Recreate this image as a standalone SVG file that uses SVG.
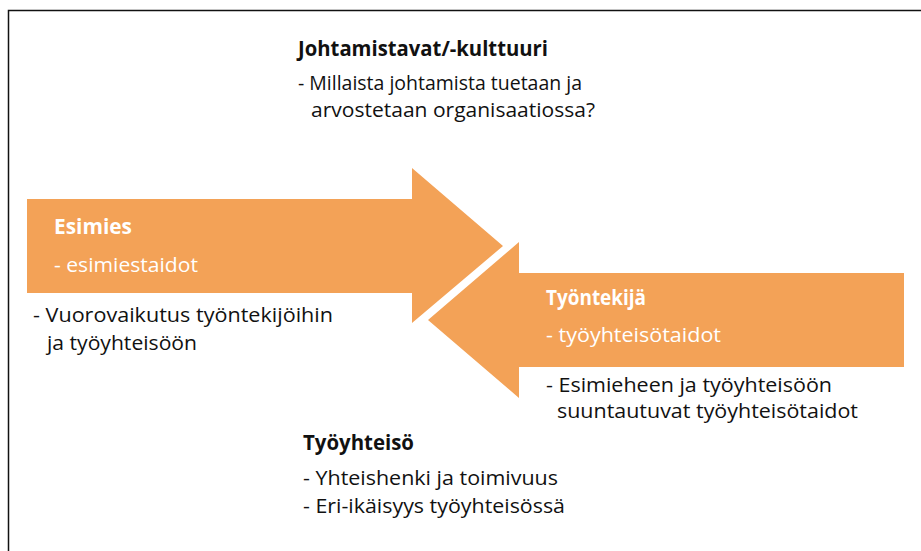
<svg xmlns="http://www.w3.org/2000/svg" width="921" height="551" viewBox="0 0 921 551">
<style>
text{font-family:"Open Sans","Noto Sans","Liberation Sans",sans-serif;font-size:20.5px;fill:#111}
.b{font-weight:bold}
.w{fill:#fff}
.arrow{fill:#F3A257}
</style>
<rect width="921" height="551" fill="#fff"/>
<path d="M8.5,551 V10.5 H921" fill="none" stroke="#111" stroke-width="1.5"/>
<g id="connectors">
<polygon id="arrow-esimies" class="arrow" points="27,199 412,199 412,168 503,246 412,323 412,293 27,293"/>
<polygon id="arrow-tyontekija" class="arrow" points="904,273 519,273 519,242 428,320 519,398 519,367 904,367"/>
</g>
<g id="johtamistavat">
<text x="298" y="56" class="b" textLength="250" lengthAdjust="spacingAndGlyphs">Johtamistavat/-kulttuuri</text>
<text x="298" y="90" textLength="284" lengthAdjust="spacingAndGlyphs">- Millaista johtamista tuetaan ja</text>
<text x="311" y="117" textLength="284" lengthAdjust="spacingAndGlyphs">arvostetaan organisaatiossa?</text>
</g>
<g id="esimies">
<text x="54" y="234" class="b w" textLength="78" lengthAdjust="spacingAndGlyphs">Esimies</text>
<text x="54" y="272" class="w" textLength="144" lengthAdjust="spacingAndGlyphs">- esimiestaidot</text>
<text x="33" y="322" textLength="300" lengthAdjust="spacingAndGlyphs">- Vuorovaikutus työntekijöihin</text>
<text x="47" y="350" textLength="150" lengthAdjust="spacingAndGlyphs">ja työyhteisöön</text>
</g>
<g id="tyontekija">
<text x="546" y="305" class="b w" textLength="100" lengthAdjust="spacingAndGlyphs">Työntekijä</text>
<text x="546" y="342" class="w" textLength="175" lengthAdjust="spacingAndGlyphs">- työyhteisötaidot</text>
<text x="546" y="392" textLength="286" lengthAdjust="spacingAndGlyphs">- Esimieheen ja työyhteisöön</text>
<text x="557" y="418" textLength="301" lengthAdjust="spacingAndGlyphs">suuntautuvat työyhteisötaidot</text>
</g>
<g id="tyoyhteiso">
<text x="303" y="450" class="b" textLength="111" lengthAdjust="spacingAndGlyphs">Työyhteisö</text>
<text x="303" y="485" textLength="255" lengthAdjust="spacingAndGlyphs">- Yhteishenki ja toimivuus</text>
<text x="303" y="513" textLength="262" lengthAdjust="spacingAndGlyphs">- Eri-ikäisyys työyhteisössä</text>
</g>
</svg>
